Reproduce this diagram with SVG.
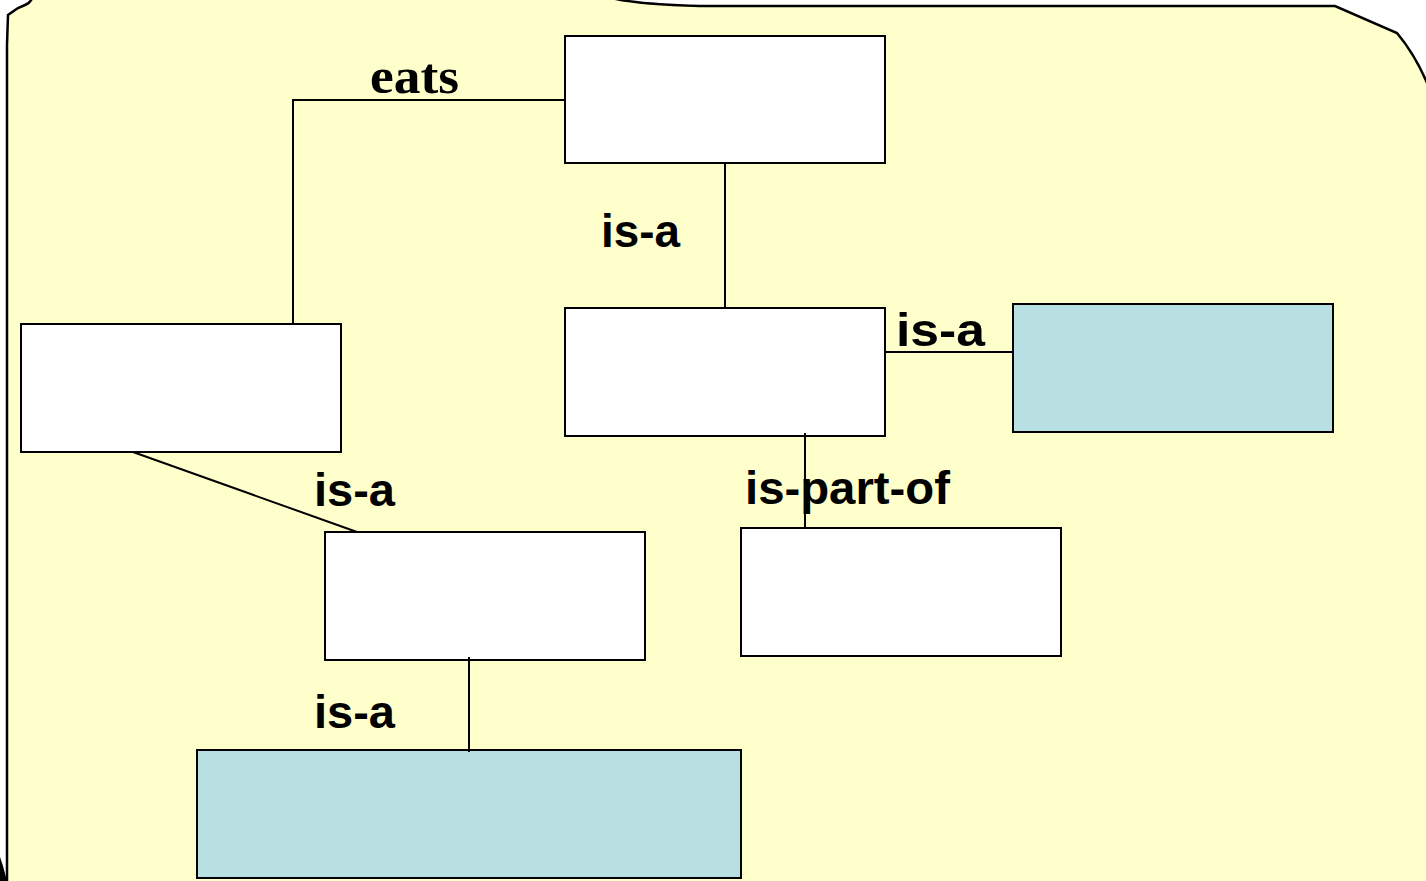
<svg xmlns="http://www.w3.org/2000/svg" width="1426" height="881" viewBox="0 0 1426 881">
<style>
.node{stroke:#000;stroke-width:2}
.w{fill:#fff}
.b{fill:#b8dfe2}
.lbl{font-family:"Liberation Sans",Arial,sans-serif;font-weight:bold;font-size:47px;fill:#000}
.eats{font-family:"Liberation Serif","Times New Roman",serif;font-weight:bold;font-size:50px;fill:#000}
#connectors line,#connectors polyline{stroke:#000;stroke-width:2;fill:none}
</style>
<rect x="0" y="0" width="1426" height="881" fill="#fff"/>
<path d="M7,895 L7,45 L8,15 L18,8 L25,5 Q31,3 34,-6 L600,-6 Q620,4 700,6 L1335,6 L1397,33 Q1418,58 1432,95 L1432,895 Z" fill="#ffffcc" stroke="#000" stroke-width="2.5"/>
<path d="M0,857 L3,866 L7,881 L0,881 Z" fill="#000"/>
<g id="labels-under">
<text class="lbl" x="745" y="504" textLength="205" lengthAdjust="spacingAndGlyphs">is-part-of</text>
</g>
<g id="nodes">
<g id="n1"><rect class="node w" x="565" y="36" width="320" height="127"/></g>
<g id="n2"><rect class="node w" x="565" y="308" width="320" height="128"/></g>
<g id="n3"><rect class="node b" x="1013" y="304" width="320" height="128"/></g>
<g id="n4"><rect class="node w" x="21" y="324" width="320" height="128"/></g>
<g id="n5"><rect class="node w" x="325" y="532" width="320" height="128"/></g>
<g id="n6"><rect class="node w" x="741" y="528" width="320" height="128"/></g>
<g id="n7"><rect class="node b" x="197" y="750" width="544" height="128"/></g>
</g>
<g id="connectors">
<polyline points="565,100 293,100 293,324"/>
<line x1="725" y1="163" x2="725" y2="308"/>
<line x1="885" y1="352" x2="1013" y2="352"/>
<line x1="133" y1="452" x2="357" y2="532"/>
<line x1="805" y1="433" x2="805" y2="527"/>
<line x1="469" y1="657" x2="469" y2="752"/>
</g>
<g id="labels">
<text class="eats" x="370" y="93" textLength="89" lengthAdjust="spacingAndGlyphs">eats</text>
<text class="lbl" x="601" y="247" textLength="79" lengthAdjust="spacingAndGlyphs">is-a</text>
<text class="lbl" x="896" y="346" textLength="89" lengthAdjust="spacingAndGlyphs">is-a</text>
<text class="lbl" x="314" y="506" textLength="81" lengthAdjust="spacingAndGlyphs">is-a</text>
<text class="lbl" x="314" y="728" textLength="81" lengthAdjust="spacingAndGlyphs">is-a</text>
</g>
</svg>
